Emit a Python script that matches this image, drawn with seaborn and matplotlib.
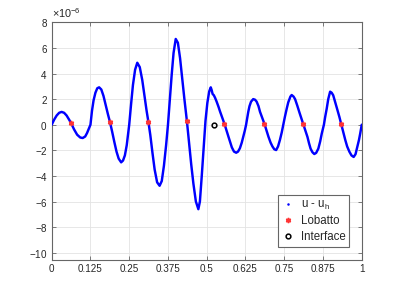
import matplotlib
matplotlib.use("Agg")
import matplotlib.pyplot as plt
from matplotlib.lines import Line2D
import seaborn as sns
import numpy as np
import pandas as pd

# ---- data (y values in units of 1e-6) ----
x_curve = [0, 0.008, 0.016, 0.024, 0.032, 0.040, 0.048, 0.056, 0.063, 0.072, 0.082, 0.092, 0.100,
           0.108, 0.114, 0.120, 0.125,
           0.130, 0.135, 0.141, 0.147, 0.153, 0.160, 0.167, 0.174, 0.181, 0.188, 0.195, 0.202, 0.209,
           0.216, 0.224, 0.230, 0.236, 0.242, 0.247, 0.250,
           0.256, 0.262, 0.269, 0.276, 0.284, 0.292, 0.300, 0.306, 0.312, 0.318, 0.325, 0.332, 0.340,
           0.348, 0.355, 0.362, 0.369, 0.375,
           0.381, 0.387, 0.393, 0.400, 0.407, 0.414, 0.421, 0.428, 0.436, 0.443, 0.450, 0.457, 0.465,
           0.473, 0.478, 0.484, 0.490, 0.496, 0.502, 0.508, 0.513, 0.516, 0.519, 0.523, 0.527, 0.532,
           0.538, 0.543, 0.550, 0.557, 0.564, 0.570, 0.576, 0.581, 0.588, 0.595, 0.601, 0.607, 0.613,
           0.618, 0.623, 0.627, 0.630, 0.634, 0.638, 0.643, 0.650, 0.656, 0.661, 0.667, 0.672, 0.679,
           0.686, 0.693, 0.699, 0.706, 0.712, 0.718, 0.724, 0.730, 0.736, 0.742, 0.747, 0.752, 0.758,
           0.763, 0.767, 0.770, 0.774, 0.780, 0.785, 0.792, 0.799, 0.806, 0.812, 0.818, 0.825, 0.830,
           0.835, 0.841, 0.847, 0.853, 0.860, 0.866, 0.871, 0.878, 0.882, 0.887, 0.892, 0.898, 0.903,
           0.908, 0.914, 0.921, 0.928, 0.934, 0.940, 0.947, 0.953, 0.960, 0.967, 0.974, 0.980, 0.986,
           0.991, 0.995, 1.0]
y_curve = [0, 0.4, 0.72, 0.93, 1.0, 0.93, 0.72, 0.4, 0.1, -0.36, -0.78, -1.0, -1.04,
           -0.92, -0.65, -0.3, 0,
           1.1, 1.9, 2.5, 2.85, 2.92, 2.75, 2.25, 1.55, 0.85, 0.2, -0.55, -1.35, -2.1,
           -2.65, -2.94, -2.8, -2.4, -1.6, -0.6, 0,
           1.6, 3.1, 4.3, 4.84, 4.5, 3.5, 2.1, 1.1, 0.2, -0.8, -2.2, -3.5, -4.5,
           -4.77, -4.4, -3.2, -1.6, 0,
           2.0, 3.9, 5.6, 6.7, 6.4, 5.2, 3.6, 2.0, 0.3, -1.4, -3.1, -4.6, -6.0,
           -6.6, -6.0, -4.0, -1.8, 0.3, 1.7, 2.6, 2.92, 2.7, 2.4, 2.3, 2.1, 1.8,
           1.4, 1.03, 0.55, 0.08, -0.45, -0.93, -1.4, -1.77, -2.1, -2.19, -2.1, -1.84, -1.4,
           -0.93, -0.45, 0, 0.45, 1.0, 1.45, 1.8, 2.0, 1.95, 1.8, 1.45, 1.0, 0.55,
           0.08, -0.45, -0.93, -1.4, -1.7, -1.92, -1.98, -1.7, -1.2, -0.6, 0, 0.6, 1.25,
           1.75, 2.0, 2.2, 2.32, 2.2, 2.0, 1.5, 0.96, 0.45, 0.03, -0.45, -0.96, -1.45,
           -1.87, -2.15, -2.29, -2.2, -1.87, -1.3, -0.7, 0, 0.6, 1.25, 2.0, 2.58, 2.5,
           2.3, 1.8, 1.2, 0.6, 0.03, -0.55, -1.2, -1.7, -2.1, -2.4, -2.52, -2.3, -1.7,
           -1.2, -0.7, 0]
x_lobatto = [0.063, 0.188, 0.312, 0.436, 0.557, 0.686, 0.812, 0.934]
y_lobatto = [0.15, 0.2, 0.23, 0.3, 0.08, 0.08, 0.03, 0.03]
x_interface = [0.523]
y_interface = [0.0]
x_ticks = [0, 0.125, 0.25, 0.375, 0.5, 0.625, 0.75, 0.875, 1]
x_ticklabels = ["0", "0.125", "0.25", "0.375", "0.5", "0.625", "0.75", "0.875", "1"]
y_ticks = [-10, -8, -6, -4, -2, 0, 2, 4, 6, 8]
scale = 1e-6

sns.set_theme(style="whitegrid")
plt.rcParams['font.family'] = ['Liberation Sans', 'DejaVu Sans']
plt.rcParams['mathtext.fontset'] = 'custom'
plt.rcParams['mathtext.rm'] = 'Liberation Sans'
plt.rcParams['mathtext.it'] = 'Liberation Sans:italic'

fig = plt.figure(figsize=(3.99, 2.92), dpi=100)
ax = fig.add_axes([0.1296, 0.1096, 0.777, 0.814])
ax.set_facecolor('white')

curve = pd.DataFrame({"x": x_curve, "y": np.array(y_curve) * scale})
lob = pd.DataFrame({"x": x_lobatto, "y": np.array(y_lobatto) * scale})
itf = pd.DataFrame({"x": x_interface, "y": np.array(y_interface) * scale})

red = (1, 0.2, 0.2)
sns.lineplot(data=curve, x="x", y="y", ax=ax, color=(0, 0, 1), lw=1.75,
             estimator=None, sort=False, zorder=3)
ax.plot(lob["x"], lob["y"], linestyle='none', marker=(6, 2, 0), markersize=3.8,
        markeredgewidth=1.1, color=red, zorder=4)
ax.plot(itf["x"], itf["y"], linestyle='none', marker='o', markersize=3.4,
        markeredgewidth=1.1, markerfacecolor='none', markeredgecolor='black', zorder=4)

ax.set_xlim(0, 1)
ax.set_ylim(-10.57e-6, 8e-6)
ax.set_xticks(x_ticks)
ax.set_xticklabels(x_ticklabels)
ax.set_yticks(np.array(y_ticks) * scale)
ax.ticklabel_format(axis='y', style='sci', scilimits=(-6, -6), useMathText=True)
ax.set_xlabel("")
ax.set_ylabel("")

ax.grid(True, color='#e3e3e3', lw=0.6)
for s in ax.spines.values():
    s.set_color('#666666')
    s.set_linewidth(0.8)
    s.set_visible(True)
ax.tick_params(axis='both', which='both', direction='in', length=3, width=0.6,
               colors='#666666', labelcolor='#262626', labelsize=7.1,
               top=True, right=True, bottom=True, left=True, pad=3)
ax.yaxis.get_offset_text().set_fontsize(7.8)
ax.yaxis.get_offset_text().set_color('#262626')

handles = [
    Line2D([], [], linestyle='none', marker='.', markersize=1.6, color=(0, 0, 1)),
    Line2D([], [], linestyle='none', marker=(6, 2, 0), markersize=3.8, markeredgewidth=1.1,
           color=red),
    Line2D([], [], linestyle='none', marker='o', markersize=3.4, markeredgewidth=1.1,
           markerfacecolor='none', markeredgecolor='black'),
]
labels = ["u - u$_{\\mathrm{h}}$", "Lobatto", "Interface"]
leg = ax.legend(handles, labels, loc='lower right', bbox_to_anchor=(0.96, 0.056),
                borderaxespad=0, fontsize=8.3, frameon=True, fancybox=False,
                edgecolor='#666666', framealpha=1, handlelength=1.0,
                handletextpad=0.6, labelspacing=0.3, borderpad=0.35)
leg.get_frame().set_linewidth(0.8)

fig.savefig("out.png", dpi=100)
